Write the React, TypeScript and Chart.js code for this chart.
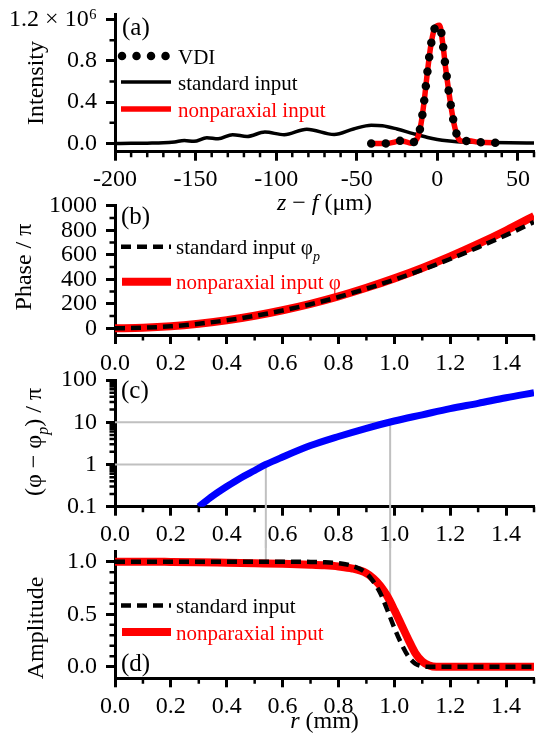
import React, { useEffect, useRef } from 'react';
import { Chart, registerables } from 'chart.js';

Chart.register(...registerables);

const FONT = "'Liberation Serif', 'Times New Roman', Times, serif";

// ---------- Panel (a): intensity (x 10^6) vs z - f (um)
const zStandard = [-200, -190, -180, -170, -163, -157, -151, -143, -136, -127, -118, -107, -95, -81, -64, -52, -41, -34, -25, -15, -6, 0, 6, 12, 20, 33, 45, 60];
const intensityStandard = [0.0, 0.001, 0.003, 0.006, 0.015, 0.028, 0.02, 0.055, 0.045, 0.085, 0.068, 0.11, 0.085, 0.138, 0.087, 0.14, 0.177, 0.172, 0.14, 0.095, 0.058, 0.039, 0.025, 0.016, 0.012, 0.008, 0.006, 0.005];
const zNonparaxial = [-42, -35, -30, -26, -23, -20, -16.5, -14, -12, -10, -8, -6, -4, -2, 0, 1.2, 2, 3, 4, 5, 6, 8, 10, 12, 14, 17, 20, 24, 30, 38];
const intensityNonparaxial = [0.0, 0.0, 0.002, 0.015, 0.025, 0.018, 0.003, 0.02, 0.065, 0.2, 0.43, 0.71, 0.95, 1.1, 1.14, 1.145, 1.12, 1.01, 0.89, 0.75, 0.63, 0.41, 0.22, 0.09, 0.03, 0.022, 0.025, 0.015, 0.008, 0.006];
const zVDI = [-41, -35, -30, -26, -23, -20, -16.5, -14, -12, -10, -8, -6, -4, -2, 0, 1.2, 2, 3, 4, 5, 6, 8, 10, 12, 14, 17, 20, 24, 30, 37];
const intensityVDI = [0.0, 0.0, 0.002, 0.015, 0.025, 0.018, 0.003, 0.02, 0.065, 0.2, 0.43, 0.71, 0.95, 1.1, 1.14, 1.145, 1.12, 1.01, 0.89, 0.75, 0.63, 0.41, 0.22, 0.09, 0.03, 0.022, 0.025, 0.015, 0.008, 0.006];

// ---------- Panel (b): phase / pi vs r (mm)
const rPhase = [0, 0.1, 0.2, 0.3, 0.4, 0.5, 0.6, 0.7, 0.8, 0.9, 1.0, 1.1, 1.2, 1.3, 1.4, 1.5];
const phaseNonparaxial = [0, 4, 16, 37, 65, 102, 147, 199, 260, 330, 407, 492, 586, 688, 798, 916];
const phaseStandard = [0, 4, 16, 37, 65, 101, 145, 196, 255, 323, 396, 477, 565, 660, 760, 866];

// ---------- Panel (c): (phi - phi_p) / pi vs r (mm)
const rDiff = [0.3, 0.35, 0.4, 0.45, 0.5, 0.54, 0.6, 0.7, 0.8, 0.9, 1.0, 1.1, 1.2, 1.3, 1.4, 1.5];
const phaseDiff = [0.1, 0.18, 0.3, 0.48, 0.72, 1.0, 1.5, 2.8, 4.6, 7.2, 10.7, 15, 21, 28, 38, 50];
const guideR = [0.54, 0.985];
const guideDiff = [1, 10];
const guideAmp = [1.0, 0.63];

// ---------- Panel (d): amplitude vs r (mm)
const rAmp = [0, 0.1, 0.2, 0.3, 0.4, 0.5, 0.6, 0.7, 0.75, 0.8, 0.85, 0.9, 0.925, 0.95, 0.975, 1.0, 1.025, 1.05, 1.075, 1.1, 1.125, 1.15, 1.2, 1.3, 1.4, 1.5];
const ampStandard = [1, 1, 1, 1, 1, 1, 1, 0.998, 0.995, 0.985, 0.96, 0.89, 0.81, 0.7, 0.54, 0.37, 0.22, 0.1, 0.03, 0.005, 0, 0, 0, 0, 0, 0];
const ampNonparaxial = [1, 1, 0.998, 0.995, 0.99, 0.985, 0.98, 0.972, 0.966, 0.955, 0.935, 0.89, 0.84, 0.77, 0.67, 0.54, 0.4, 0.26, 0.13, 0.05, 0.012, 0, 0, 0, 0, 0];

// ---------- Ticks
const zMajor = [-200, -150, -100, -50, 0, 50];
const zLabels = ['-200', '-150', '-100', '-50', '0', '50'];
const zMinor = [-190, -180, -170, -160, -140, -130, -120, -110, -90, -80, -70, -60, -40, -30, -20, -10, 10, 20, 30, 40, 60];
const intensityMajor = [0, 0.4, 0.8, 1.2];
const intensityLabels = ['0.0', '0.4', '0.8', '1.2 × 10⁶'];
const intensityMinor = [0.2, 0.6, 1.0];
const rMajor = [0, 0.2, 0.4, 0.6, 0.8, 1.0, 1.2, 1.4];
const rLabels = ['0.0', '0.2', '0.4', '0.6', '0.8', '1.0', '1.2', '1.4'];
const rMinor = [0.1, 0.3, 0.5, 0.7, 0.9, 1.1, 1.3, 1.5];
const phaseMajor = [0, 200, 400, 600, 800, 1000];
const phaseLabels = ['0', '200', '400', '600', '800', '1000'];
const phaseMinor = [100, 300, 500, 700, 900];
const diffMajor = [0.1, 1, 10, 100];
const diffLabels = ['0.1', '1', '10', '100'];
const diffMinor = [0.2, 0.3, 0.4, 0.5, 0.6, 0.7, 0.8, 0.9, 2, 3, 4, 5, 6, 7, 8, 9, 20, 30, 40, 50, 60, 70, 80, 90];
const ampMajor = [0, 0.5, 1.0];
const ampLabels = ['0.0', '0.5', '1.0'];
const ampMinor = [0.1, 0.2, 0.3, 0.4, 0.6, 0.7, 0.8, 0.9];

const pts = (xs: number[], ys: number[]) => xs.map((x, i) => ({ x, y: ys[i] }));

type Seg = { t: string; i?: boolean; sub?: boolean };
type TextItem = { segs: Seg[]; x: number | 'mid'; y: number; size: number; color?: string; rot?: boolean; center?: boolean };
type LegendItem = { ds: number; y: number; x0: number; x1: number; tx: number; segs: Seg[]; color?: string };
type AxisSpec = { type?: string; min: number; max: number; major: number[]; labels: string[]; minor: number[]; pad: number };

function fontFor(s: Seg, size: number) {
  const sz = s.sub ? Math.round(size * 0.68) : size;
  return `${s.i ? 'italic ' : ''}${sz}px ${FONT}`;
}

function drawRich(ctx: CanvasRenderingContext2D, item: TextItem, offY: number, area: any) {
  ctx.save();
  const x = item.x === 'mid' ? (area.left + area.right) / 2 : item.x;
  ctx.translate(x, item.y - offY);
  if (item.rot) ctx.rotate(-Math.PI / 2);
  ctx.fillStyle = item.color || '#000';
  ctx.textBaseline = 'alphabetic';
  ctx.textAlign = 'left';
  const widths = item.segs.map((s) => {
    ctx.font = fontFor(s, item.size);
    return ctx.measureText(s.t).width;
  });
  const total = widths.reduce((a, b) => a + b, 0);
  let cx = item.center || item.rot ? -total / 2 : 0;
  item.segs.forEach((s, k) => {
    ctx.font = fontFor(s, item.size);
    ctx.fillText(s.t, cx, s.sub ? item.size * 0.3 : 0);
    cx += widths[k];
  });
  ctx.restore();
}

function axis(kind: 'x' | 'y', o: AxisSpec, size: number) {
  return {
    type: o.type || 'linear',
    position: kind === 'x' ? 'bottom' : 'left',
    min: o.min,
    max: o.max,
    afterBuildTicks: (s: any) => {
      s.ticks = o.major.map((v) => ({ value: v }));
    },
    afterFit: (s: any) => {
      if (kind === 'x') s.height = size;
      else s.width = size;
      s.paddingLeft = 0;
      s.paddingRight = 0;
      s.paddingTop = 0;
      s.paddingBottom = 0;
    },
    ticks: {
      autoSkip: false,
      maxRotation: 0,
      minRotation: 0,
      padding: o.pad,
      color: '#000',
      font: { family: FONT, size: 24 },
      callback: (v: number) => {
        const k = o.major.findIndex((m) => Math.abs(m - v) < 1e-9 * Math.max(1, Math.abs(m)));
        return k >= 0 ? o.labels[k] : '';
      },
    },
    grid: { display: true, drawOnChartArea: false, drawTicks: true, tickLength: 9, tickWidth: 3, tickColor: '#000' },
    border: { display: true, color: '#000', width: 3 },
  };
}

type PanelSpec = {
  top: number;
  height: number;
  areaTop: number;
  areaBottom: number;
  x: AxisSpec;
  y: AxisSpec;
  datasets: any[];
  texts: TextItem[];
  legend: LegendItem[];
};

function overlayPlugin(p: PanelSpec) {
  return {
    id: 'overlay',
    afterDraw(chart: any) {
      const { ctx, chartArea: a, scales } = chart;
      ctx.save();
      ctx.strokeStyle = '#000';
      ctx.lineWidth = 2.5;
      ctx.setLineDash([]);
      ctx.beginPath();
      p.x.minor.forEach((v) => {
        const px = scales.x.getPixelForValue(v);
        ctx.moveTo(px, a.bottom);
        ctx.lineTo(px, a.bottom + 5.5);
      });
      p.y.minor.forEach((v) => {
        const py = scales.y.getPixelForValue(v);
        ctx.moveTo(a.left, py);
        ctx.lineTo(a.left - 5.5, py);
      });
      ctx.stroke();
      p.legend.forEach((item) => {
        const ds = chart.data.datasets[item.ds];
        const y = item.y - p.top;
        ctx.save();
        ctx.strokeStyle = ds.borderColor;
        ctx.lineWidth = ds.borderWidth;
        ctx.setLineDash(ds.borderDash || []);
        ctx.lineCap = ds.borderCapStyle || 'butt';
        ctx.beginPath();
        ctx.moveTo(item.x0, y);
        ctx.lineTo(item.x1, y);
        ctx.stroke();
        ctx.restore();
        drawRich(ctx, { segs: item.segs, x: item.tx, y: item.y + 7.5, size: 21, color: item.color }, p.top, a);
      });
      p.texts.forEach((t) => drawRich(ctx, t, p.top, a));
      ctx.restore();
    },
  };
}

function buildConfig(p: PanelSpec): any {
  return {
    type: 'line',
    data: { datasets: p.datasets },
    options: {
      responsive: false,
      animation: false,
      devicePixelRatio: 1,
      events: [],
      layout: { padding: { top: p.areaTop - p.top, right: 8, left: 0, bottom: 0 } },
      plugins: { legend: { display: false }, tooltip: { enabled: false }, title: { display: false } },
      elements: { point: { radius: 0 }, line: { borderJoinStyle: 'round' } },
      scales: {
        x: axis('x', p.x, p.top + p.height - p.areaBottom),
        y: axis('y', p.y, 115),
      },
    },
    plugins: [overlayPlugin(p)],
  };
}

const RED = '#ff0000';
const GRAY = '#c0c0c0';

const rAxis = (pad: number): AxisSpec => ({ min: 0, max: 1.5, major: rMajor, labels: rLabels, minor: rMinor, pad });

const panelA: PanelSpec = {
  top: 0,
  height: 218,
  areaTop: 14.3,
  areaBottom: 151.7,
  x: { min: -200, max: 60, major: zMajor, labels: zLabels, minor: zMinor, pad: 5 },
  y: { min: -0.08, max: 1.25, major: intensityMajor, labels: intensityLabels, minor: intensityMinor, pad: 9 },
  datasets: [
    { data: pts(zStandard, intensityStandard), borderColor: '#000', borderWidth: 3.5, cubicInterpolationMode: 'monotone', order: 2 },
    { data: pts(zNonparaxial, intensityNonparaxial), borderColor: RED, borderWidth: 5.5, cubicInterpolationMode: 'monotone', order: 1 },
    { data: pts(zVDI, intensityVDI), borderColor: '#000', borderWidth: 8.5, borderDash: [0.01, 14.5], borderCapStyle: 'round', cubicInterpolationMode: 'monotone', order: 0 },
  ],
  texts: [
    { segs: [{ t: '(a)' }], x: 122, y: 35, size: 25 },
    { segs: [{ t: 'Intensity' }], x: 43, y: 83, size: 24, rot: true },
    { segs: [{ t: 'z', i: true }, { t: ' − ' }, { t: 'f', i: true }, { t: ' (μm)' }], x: 'mid', y: 210, size: 24, center: true },
  ],
  legend: [
    { ds: 2, y: 56, x0: 122, x1: 170, tx: 178, segs: [{ t: 'VDI' }] },
    { ds: 0, y: 82, x0: 121, x1: 171, tx: 178, segs: [{ t: 'standard input' }] },
    { ds: 1, y: 109, x0: 121, x1: 171, tx: 178, segs: [{ t: 'nonparaxial input' }], color: RED },
  ],
};

const panelB: PanelSpec = {
  top: 195,
  height: 180,
  areaTop: 205.7,
  areaBottom: 335,
  x: rAxis(5),
  y: { min: -55, max: 1000, major: phaseMajor, labels: phaseLabels, minor: phaseMinor, pad: 9 },
  datasets: [
    { data: pts(rPhase, phaseNonparaxial), borderColor: RED, borderWidth: 8, cubicInterpolationMode: 'monotone', order: 1 },
    { data: pts(rPhase, phaseStandard), borderColor: '#000', borderWidth: 4.5, borderDash: [10, 6], cubicInterpolationMode: 'monotone', order: 0 },
  ],
  texts: [
    { segs: [{ t: '(b)' }], x: 121, y: 224, size: 25 },
    { segs: [{ t: 'Phase / π' }], x: 31, y: 267, size: 24, rot: true },
  ],
  legend: [
    { ds: 1, y: 246.7, x0: 121, x1: 171, tx: 176, segs: [{ t: 'standard input φ' }, { t: 'p', i: true, sub: true }] },
    { ds: 0, y: 281.7, x0: 122, x1: 171, tx: 176, segs: [{ t: 'nonparaxial input φ' }], color: RED },
  ],
};

const panelC: PanelSpec = {
  top: 370,
  height: 178,
  areaTop: 380,
  areaBottom: 506.7,
  x: rAxis(5),
  y: { type: 'logarithmic', min: 0.1, max: 100, major: diffMajor, labels: diffLabels, minor: diffMinor, pad: 9 },
  datasets: [
    { data: pts(rDiff, phaseDiff), borderColor: '#0000ff', borderWidth: 7, cubicInterpolationMode: 'monotone', order: 0 },
    { data: [{ x: 0, y: guideDiff[0] }, { x: guideR[0], y: guideDiff[0] }, { x: guideR[0], y: 0.001 }], borderColor: GRAY, borderWidth: 2, clip: false, order: 1 },
    { data: [{ x: 0, y: guideDiff[1] }, { x: guideR[1], y: guideDiff[1] }, { x: guideR[1], y: 0.001 }], borderColor: GRAY, borderWidth: 2, clip: false, order: 1 },
  ],
  texts: [
    { segs: [{ t: '(c)' }], x: 121, y: 398, size: 25 },
    { segs: [{ t: '(φ − φ' }, { t: 'p', i: true, sub: true }, { t: ') / π' }], x: 41, y: 442, size: 24, rot: true },
  ],
  legend: [],
};

const panelD: PanelSpec = {
  top: 540,
  height: 199,
  areaTop: 551.2,
  areaBottom: 678.3,
  x: rAxis(5),
  y: { min: -0.11, max: 1.1, major: ampMajor, labels: ampLabels, minor: ampMinor, pad: 9 },
  datasets: [
    { data: pts(rAmp, ampNonparaxial), borderColor: RED, borderWidth: 8, cubicInterpolationMode: 'monotone', order: 1 },
    { data: pts(rAmp, ampStandard), borderColor: '#000', borderWidth: 4.5, borderDash: [10, 6], cubicInterpolationMode: 'monotone', order: 0 },
    { data: [{ x: guideR[0], y: 3 }, { x: guideR[0], y: guideAmp[0] }], borderColor: GRAY, borderWidth: 2, clip: false, order: 2 },
    { data: [{ x: guideR[1], y: 3 }, { x: guideR[1], y: guideAmp[1] }], borderColor: GRAY, borderWidth: 2, clip: false, order: 2 },
  ],
  texts: [
    { segs: [{ t: '(d)' }], x: 121, y: 671, size: 25 },
    { segs: [{ t: 'Amplitude' }], x: 43, y: 628, size: 24, rot: true },
    { segs: [{ t: 'r', i: true }, { t: ' (mm)' }], x: 'mid', y: 728, size: 24, center: true },
  ],
  legend: [
    { ds: 1, y: 605.5, x0: 121, x1: 171, tx: 176, segs: [{ t: 'standard input' }] },
    { ds: 0, y: 632, x0: 122, x1: 171, tx: 176, segs: [{ t: 'nonparaxial input' }], color: RED },
  ],
};

const PANELS = [panelA, panelB, panelC, panelD];

export default function App() {
  const refs = [useRef<HTMLCanvasElement>(null), useRef<HTMLCanvasElement>(null), useRef<HTMLCanvasElement>(null), useRef<HTMLCanvasElement>(null)];

  useEffect(() => {
    const charts = PANELS.map((p, i) => new Chart(refs[i].current as HTMLCanvasElement, buildConfig(p)));
    return () => charts.forEach((c) => c.destroy());
  }, []);

  return (
    <div style={{ position: 'absolute', left: 0, top: 0, width: 542, height: 739, background: '#fff', overflow: 'hidden' }}>
      {PANELS.map((p, i) => (
        <canvas
          key={i}
          ref={refs[i]}
          width={542}
          height={p.height}
          style={{ position: 'absolute', left: 0, top: p.top, width: 542, height: p.height, display: 'block' }}
        />
      ))}
    </div>
  );
}
